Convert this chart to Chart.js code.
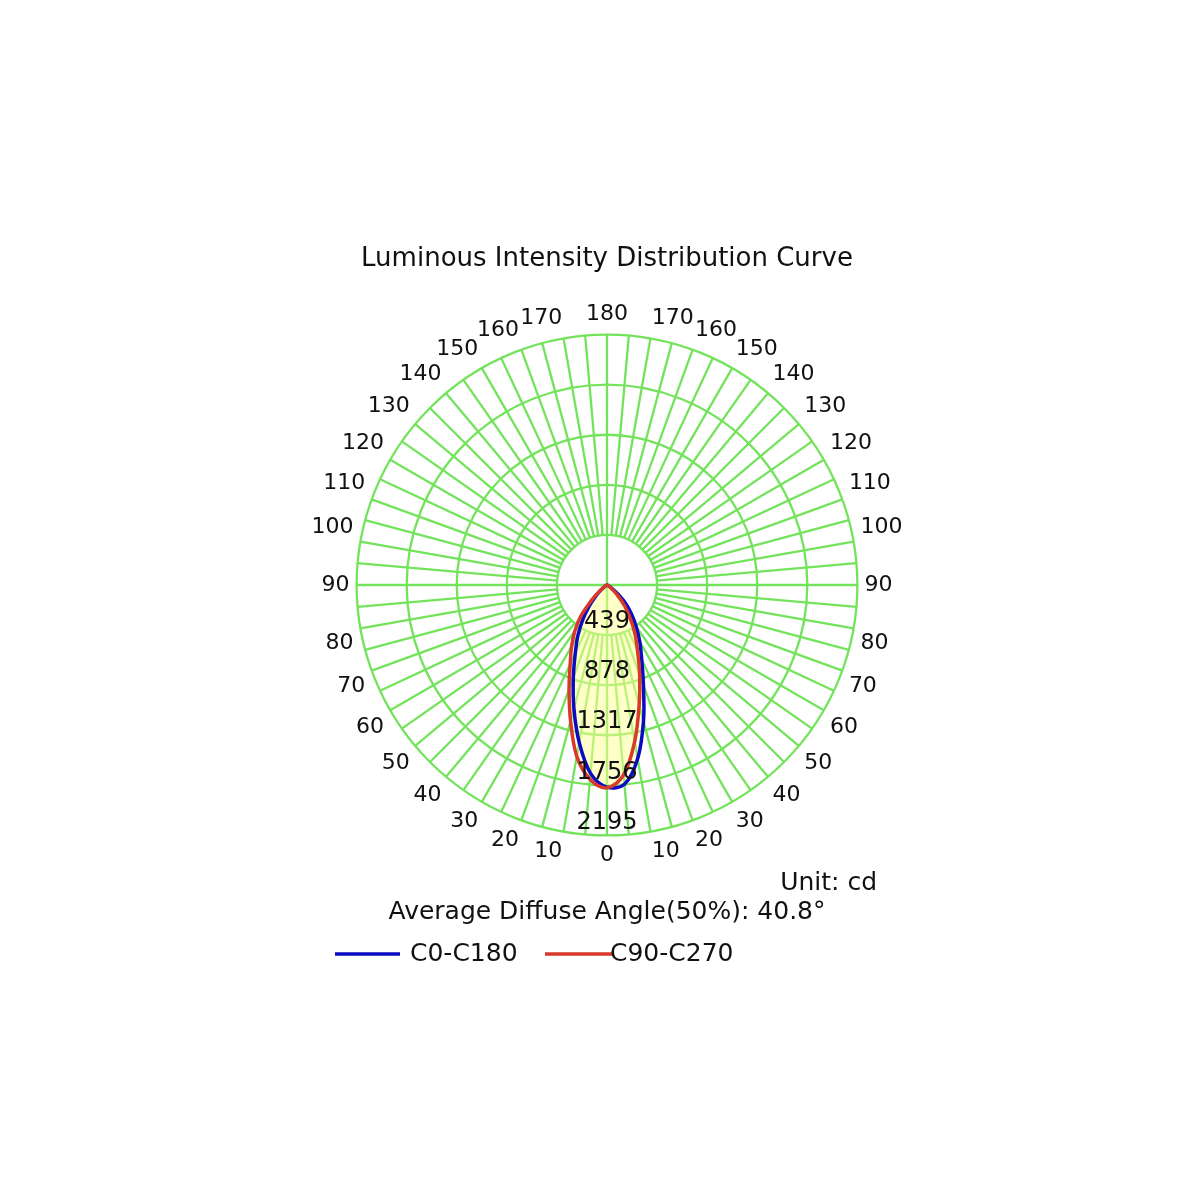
<!DOCTYPE html>
<html>
<head>
<meta charset="utf-8">
<title>Luminous Intensity Distribution Curve</title>
<script src="https://cdn.jsdelivr.net/npm/chart.js@4.4.1/dist/chart.umd.min.js"></script>
<style>
  html, body { margin: 0; padding: 0; background: #fff; }
  #wrap { width: 1200px; height: 1200px; }
</style>
</head>
<body>
<div id="wrap"><canvas id="ldc" width="1200" height="1200"></canvas></div>
<script>
// gamma angle, 0 = straight down, 180 = straight up
const gammaAngles = [0, 5, 10, 15, 20, 25, 30, 35, 40, 45, 50, 55, 60, 65, 70, 75, 80, 85, 90,
  95, 100, 105, 110, 115, 120, 125, 130, 135, 140, 145, 150, 155, 160, 165, 170, 175, 180];

// intensity in cd for each gamma angle, one array per half plane
const c0 = [1772, 1754, 1547, 1236, 934, 720, 575, 445, 335, 235, 130, 55, 20, 6, 2,
  0, 0, 0, 0, 0, 0, 0, 0, 0, 0, 0, 0, 0, 0, 0, 0, 0, 0, 0, 0, 0, 0];
const c180 = [1772, 1657, 1402, 1121, 863, 657, 510, 370, 245, 140, 70, 30, 12, 4, 1,
  0, 0, 0, 0, 0, 0, 0, 0, 0, 0, 0, 0, 0, 0, 0, 0, 0, 0, 0, 0, 0, 0];
const c90 = [1778, 1670, 1395, 1089, 836, 633, 488, 353, 243, 141, 70, 30, 12, 4, 1,
  0, 0, 0, 0, 0, 0, 0, 0, 0, 0, 0, 0, 0, 0, 0, 0, 0, 0, 0, 0, 0, 0];
const c270 = [1778, 1710, 1525, 1234, 972, 763, 620, 490, 357, 200, 95, 40, 15, 5, 2,
  0, 0, 0, 0, 0, 0, 0, 0, 0, 0, 0, 0, 0, 0, 0, 0, 0, 0, 0, 0, 0, 0];

const ringValues = [439, 878, 1317, 1756, 2195];
const seriesNames = ['C0-C180', 'C90-C270'];
const seriesColors = ['#0b0bc4', '#d8392b'];
const titleText = 'Luminous Intensity Distribution Curve';
const angleText = 'Average Diffuse Angle(50%): 40.8°';
const unitText = 'Unit: cd';

const FONT = 'DejaVu Sans';
const gridColor = '#74e35c';

// radar goes clockwise from the bottom: left half first, then the right half back down
const spokeAngles = gammaAngles.concat(gammaAngles.slice(1, -1).reverse());
const labels = spokeAngles.map(a => (a % 10 === 0 ? String(a) : ''));
const wrap = (left, right) => left.concat(right.slice(1, -1).reverse());

const extras = {
  id: 'extras',
  // spokes every 5 deg, only the 4 main ones reach the centre.
  // drawn before the scale so the rings and fill sit on top like the rest of the grid
  beforeDraw(chart) {
    const scale = chart.scales.r;
    const ctx = chart.ctx;
    const inner = scale.getDistanceFromCenterForValue(ringValues[0]);
    const outer = scale.getDistanceFromCenterForValue(scale.max);
    ctx.save();
    ctx.strokeStyle = gridColor;
    ctx.lineWidth = 2.3;
    spokeAngles.forEach((a, i) => {
      const from = scale.getPointPosition(i, a % 90 === 0 ? 0 : inner);
      const to = scale.getPointPosition(i, outer);
      ctx.beginPath();
      ctx.moveTo(from.x, from.y);
      ctx.lineTo(to.x, to.y);
      ctx.stroke();
    });
    ctx.restore();
  },
  afterDatasetsDraw(chart) {
    // ring values sit just above each ring on the 0 deg axis
    const scale = chart.scales.r;
    const ctx = chart.ctx;
    ctx.save();
    ctx.font = '24px "' + FONT + '"';
    ctx.fillStyle = '#111';
    ctx.textAlign = 'center';
    ctx.textBaseline = 'middle';
    ringValues.forEach(v => {
      const r = scale.getDistanceFromCenterForValue(v);
      ctx.fillText(String(v), scale.xCenter, scale.yCenter + r - 13);
    });
    ctx.restore();
  },
  afterDraw(chart) {
    const ctx = chart.ctx;
    ctx.save();
    ctx.font = '25px "' + FONT + '"';
    ctx.fillStyle = '#111';
    ctx.textBaseline = 'middle';
    ctx.textAlign = 'right';
    ctx.fillText(unitText, 877, 883);

    // legend
    ctx.textAlign = 'left';
    const items = [{x: 335, len: 65, gap: 75}, {x: 545, len: 67, gap: 65}];
    chart.data.datasets.forEach((ds, i) => {
      const it = items[i];
      ctx.strokeStyle = ds.borderColor;
      ctx.lineWidth = 3.5;
      ctx.beginPath();
      ctx.moveTo(it.x, 954);
      ctx.lineTo(it.x + it.len, 954);
      ctx.stroke();
      ctx.fillText(ds.label, it.x + it.gap, 954);
    });
    ctx.restore();
  }
};

new Chart(document.getElementById('ldc'), {
  type: 'radar',
  data: {
    labels: labels,
    datasets: [
      {
        label: seriesNames[0],
        data: wrap(c180, c0),
        borderColor: seriesColors[0],
        backgroundColor: 'rgba(255,255,150,0.3)',
        borderWidth: 3.5,
        pointRadius: 0,
        fill: true,
        order: 2
      },
      {
        label: seriesNames[1],
        data: wrap(c270, c90),
        borderColor: seriesColors[1],
        backgroundColor: 'rgba(255,255,150,0.3)',
        borderWidth: 3.5,
        pointRadius: 0,
        fill: true,
        order: 1
      }
    ]
  },
  options: {
    responsive: false,
    animation: false,
    elements: { line: { tension: 0.35, borderJoinStyle: 'round' } },
    layout: { padding: { top: 243.4, bottom: 273, left: 247, right: 233 } },
    scales: {
      r: {
        min: 0,
        max: ringValues[ringValues.length - 1],
        startAngle: 180,
        ticks: { display: false, stepSize: ringValues[0] },
        grid: { circular: true, color: gridColor, lineWidth: 2.3 },
        angleLines: { display: false },
        pointLabels: { font: { family: FONT, size: 22 }, color: '#111', padding: 7 }
      }
    },
    plugins: {
      legend: { display: false },
      tooltip: { enabled: false },
      filler: { drawTime: 'beforeDatasetsDraw' },
      title: {
        display: true,
        text: titleText,
        color: '#111',
        font: { family: FONT, size: 26, weight: 'normal' },
        padding: { top: 0, bottom: 26.6 }
      },
      subtitle: {
        display: true,
        position: 'bottom',
        text: angleText,
        color: '#111',
        font: { family: FONT, size: 25, weight: 'normal' },
        padding: { top: 27.8, bottom: 0 }
      }
    }
  },
  plugins: [extras]
});
</script>
</body>
</html>
